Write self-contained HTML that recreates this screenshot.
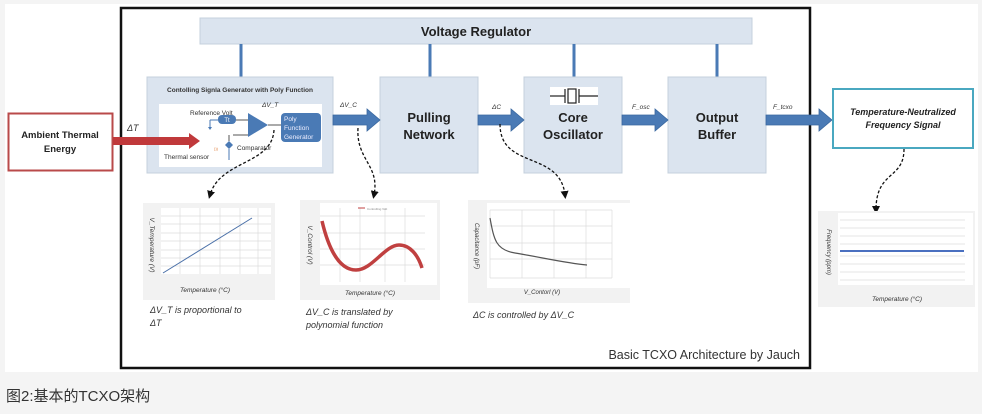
<!DOCTYPE html>
<html><head><meta charset="utf-8"><style>
html,body{margin:0;padding:0;background:#f4f4f4;}
body{width:982px;height:414px;overflow:hidden;position:relative;font-family:"Liberation Sans","Noto Sans CJK SC",sans-serif;}
svg{position:absolute;left:0;top:0}
.cap{position:absolute;left:6px;top:385px;font-size:15px;color:#333;}
</style></head><body>
<svg width="982" height="414" viewBox="0 0 982 414" font-family="Liberation Sans, sans-serif">
<defs>
<marker id="ah" markerWidth="8" markerHeight="8" refX="4" refY="4" orient="auto" markerUnits="userSpaceOnUse"><path d="M0,0 L8,4 L0,8 z" fill="#111"/></marker>
</defs>
<rect x="5" y="4" width="973" height="368" fill="#fff"/>
<rect x="121" y="8" width="689" height="360" fill="none" stroke="#111" stroke-width="2.5"/>
<!-- voltage regulator -->
<rect x="200" y="18" width="552" height="26" fill="#dbe4ef" stroke="#c5d0dc"/>
<text x="476" y="36" text-anchor="middle" font-size="13" font-weight="bold" fill="#222">Voltage Regulator</text>
<g stroke="#4a7ab5" stroke-width="3">
<line x1="241" y1="44" x2="241" y2="77"/><line x1="430" y1="44" x2="430" y2="77"/><line x1="574" y1="44" x2="574" y2="77"/><line x1="717" y1="44" x2="717" y2="77"/>
</g>
<!-- ambient -->
<rect x="8.5" y="113.5" width="104" height="57" fill="#fff" stroke="#b94a4a" stroke-width="2"/>
<text x="60" y="138" text-anchor="middle" font-size="9.5" font-weight="bold" fill="#222">Ambient Thermal</text>
<text x="60" y="152" text-anchor="middle" font-size="9.5" font-weight="bold" fill="#222">Energy</text>
<text x="127" y="131" font-size="9" font-style="italic" fill="#333">ΔT</text>
<!-- controller -->
<rect x="147" y="77" width="186" height="96" fill="#dbe4ef" stroke="#c5d0dc"/>
<text x="240" y="92" text-anchor="middle" font-size="6.5" font-weight="bold" fill="#333">Contolling Signla Generator with Poly Function</text>
<rect x="159" y="104" width="163" height="63" fill="#fff"/>
<text x="190" y="115" font-size="6.5" fill="#333">Reference Volt</text>
<rect x="218" y="115" width="18" height="9" rx="4" fill="#4a7ab5"/>
<text x="227" y="122" text-anchor="middle" font-size="6" fill="#fff">Tt</text>
<path d="M210,120 L210,128" stroke="#4a7ab5"/><path d="M208,127 l2,3 l2,-3z" fill="#4a7ab5"/>
<line x1="210" y1="120" x2="218" y2="120" stroke="#4a7ab5"/>
<line x1="236" y1="120" x2="248" y2="120" stroke="#555"/>
<path d="M248,113 L268,125 L248,137 z" fill="#4a7ab5"/>
<line x1="268" y1="125" x2="281" y2="125" stroke="#555"/>
<path d="M225,145 l4,-4 l4,4 l-4,4z" fill="#4a7ab5"/>
<line x1="229" y1="149" x2="229" y2="160" stroke="#4a7ab5"/>
<line x1="233" y1="135" x2="248" y2="135" stroke="#555"/>
<line x1="229" y1="135" x2="229" y2="141" stroke="#555"/>
<text x="214" y="150" font-size="4" fill="#e08040">)))</text>
<text x="164" y="159" font-size="6.5" fill="#333">Thermal sensor</text>
<text x="237" y="150" font-size="6.5" fill="#333">Comparator</text>
<text x="262" y="107" font-size="6.5" font-style="italic" fill="#333">ΔV_T</text>
<rect x="281" y="113" width="40" height="29" rx="4" fill="#4a7ab5"/>
<text x="284" y="121" font-size="6.5" fill="#eef">Poly</text>
<text x="284" y="130" font-size="6.5" fill="#eef">Function</text>
<text x="284" y="139" font-size="6.5" fill="#eef">Generator</text>
<!-- red arrow -->
<path d="M113,137 L189,137 L189,133 L200,141 L189,149 L189,145 L113,145 z" fill="#c0393b"/>
<!-- blocks -->
<g fill="#dbe4ef" stroke="#c5d0dc">
<rect x="380" y="77" width="98" height="96"/><rect x="524" y="77" width="98" height="96"/><rect x="668" y="77" width="98" height="96"/>
</g>
<g font-size="13" font-weight="bold" fill="#222" text-anchor="middle">
<text x="429" y="122">Pulling</text><text x="429" y="139">Network</text>
<text x="573" y="122">Core</text><text x="573" y="139">Oscillator</text>
<text x="717" y="122">Output</text><text x="717" y="139">Buffer</text>
</g>
<rect x="550" y="87" width="48" height="18" fill="#fff"/>
<g stroke="#222" stroke-width="1.2" fill="none"><line x1="550" y1="96" x2="565" y2="96"/><line x1="565" y1="89" x2="565" y2="103"/><rect x="568" y="89" width="8" height="14"/><line x1="579" y1="89" x2="579" y2="103"/><line x1="579" y1="96" x2="598" y2="96"/></g>
<!-- blue arrows -->
<g fill="#4a7ab5" stroke="#3a68a0" stroke-width="0.8">
<path d="M333,115 L367,115 L367,109 L380,120 L367,131 L367,125 L333,125z"/>
<path d="M478,115 L511,115 L511,109 L524,120 L511,131 L511,125 L478,125z"/>
<path d="M622,115 L655,115 L655,109 L668,120 L655,131 L655,125 L622,125z"/>
<path d="M766,115 L819,115 L819,109 L832,120 L819,131 L819,125 L766,125z"/>
</g>
<g font-size="6.5" font-style="italic" fill="#333">
<text x="340" y="107">ΔV_C</text><text x="492" y="109">ΔC</text><text x="632" y="109">F_osc</text><text x="773" y="109">F_tcxo</text>
</g>
<!-- final box -->
<rect x="833" y="89" width="140" height="59" fill="#fff" stroke="#4aa8c0" stroke-width="2"/>
<text x="903" y="115" text-anchor="middle" font-size="9" font-weight="bold" font-style="italic" fill="#222">Temperature-Neutralized</text>
<text x="903" y="128" text-anchor="middle" font-size="9" font-weight="bold" font-style="italic" fill="#222">Frequency Signal</text>
<!-- dashed connectors -->
<g fill="none" stroke="#111" stroke-width="1.3" stroke-dasharray="3,2" marker-end="url(#ah)">
<path d="M274,130 C272,165 220,160 210,195"/>
<path d="M358,128 C356,160 380,165 374,195"/>
<path d="M500,124 C500,170 560,150 565,195"/>
<path d="M904,149 C904,180 876,170 876,210"/>
</g>
<!-- chart1 -->
<rect x="143" y="203" width="132" height="97" fill="#f2f2f2"/>
<rect x="161" y="208" width="110" height="66" fill="#fff"/>
<g stroke="#ddd" stroke-width="0.7">
<line x1="161" y1="216" x2="271" y2="216"/><line x1="161" y1="224" x2="271" y2="224"/><line x1="161" y1="233" x2="271" y2="233"/><line x1="161" y1="241" x2="271" y2="241"/><line x1="161" y1="250" x2="271" y2="250"/><line x1="161" y1="258" x2="271" y2="258"/><line x1="161" y1="266" x2="271" y2="266"/>
<line x1="180" y1="208" x2="180" y2="274"/><line x1="200" y1="208" x2="200" y2="274"/><line x1="220" y1="208" x2="220" y2="274"/><line x1="240" y1="208" x2="240" y2="274"/><line x1="258" y1="208" x2="258" y2="274"/>
</g>
<line x1="163" y1="273" x2="252" y2="218" stroke="#4a70a8" stroke-width="1"/>
<text x="205" y="292" text-anchor="middle" font-size="6.5" font-style="italic" fill="#333">Temperature (°C)</text>
<text transform="translate(150,245) rotate(90)" text-anchor="middle" font-size="6.5" font-style="italic" fill="#333">V_Temperature  (V)</text>
<!-- chart2 -->
<rect x="300" y="200" width="140" height="100" fill="#f2f2f2"/>
<rect x="320" y="203" width="117" height="82" fill="#fff"/>
<g stroke="#ddd" stroke-width="0.7">
<line x1="320" y1="216" x2="425" y2="216"/><line x1="320" y1="233" x2="425" y2="233"/><line x1="320" y1="249" x2="425" y2="249"/><line x1="320" y1="265" x2="425" y2="265"/>
<line x1="340" y1="208" x2="340" y2="282"/><line x1="360" y1="208" x2="360" y2="282"/><line x1="385" y1="208" x2="385" y2="282"/><line x1="405" y1="208" x2="405" y2="282"/>
</g>
<path d="M322,221 C330,255 342,270 356,270 C372,270 385,245 399,245 C410,245 418,255 422,268" fill="none" stroke="#c04040" stroke-width="3.5"/>
<line x1="358" y1="208" x2="365" y2="208" stroke="#c04040"/>
<text x="367" y="210" font-size="3" fill="#888">Controlling Volt</text>
<text x="370" y="295" text-anchor="middle" font-size="6.5" font-style="italic" fill="#333">Temperature (°C)</text>
<text transform="translate(308,245) rotate(90)" text-anchor="middle" font-size="6.5" font-style="italic" fill="#333">V_Control (V)</text>
<!-- chart3 -->
<rect x="468" y="200" width="162" height="103" fill="#f2f2f2"/>
<rect x="487" y="203" width="143" height="85" fill="#fff"/>
<g stroke="#ddd" stroke-width="0.7">
<line x1="490" y1="210" x2="612" y2="210"/><line x1="490" y1="226" x2="612" y2="226"/><line x1="490" y1="243" x2="612" y2="243"/><line x1="490" y1="259" x2="612" y2="259"/><line x1="490" y1="278" x2="612" y2="278"/>
<line x1="522" y1="210" x2="522" y2="278"/><line x1="554" y1="210" x2="554" y2="278"/><line x1="586" y1="210" x2="586" y2="278"/><line x1="612" y1="210" x2="612" y2="278"/><line x1="490" y1="210" x2="490" y2="278"/>
</g>
<path d="M490,218 C494,240 496,250 515,253 C545,258 565,263 587,265" fill="none" stroke="#555" stroke-width="1.2"/>
<text x="542" y="294" text-anchor="middle" font-size="6" font-style="italic" fill="#333">V_Contorl (V)</text>
<text transform="translate(475,246) rotate(90)" text-anchor="middle" font-size="6" font-style="italic" fill="#333">Capacitance (pF)</text>
<!-- chart4 -->
<rect x="818" y="211" width="157" height="96" fill="#f2f2f2"/>
<rect x="838" y="213" width="135" height="72" fill="#fff"/>
<g stroke="#ddd" stroke-width="0.7">
<line x1="840" y1="220" x2="965" y2="220"/><line x1="840" y1="228" x2="965" y2="228"/><line x1="840" y1="236" x2="965" y2="236"/><line x1="840" y1="244" x2="965" y2="244"/><line x1="840" y1="256" x2="965" y2="256"/><line x1="840" y1="264" x2="965" y2="264"/><line x1="840" y1="272" x2="965" y2="272"/><line x1="840" y1="280" x2="965" y2="280"/>
</g>
<line x1="840" y1="251" x2="964" y2="251" stroke="#4a70c0" stroke-width="2"/>
<text x="897" y="301" text-anchor="middle" font-size="6.5" font-style="italic" fill="#333">Temperature (°C)</text>
<text transform="translate(827,252) rotate(90)" text-anchor="middle" font-size="6" font-style="italic" fill="#333">Frequency (ppm)</text>
<!-- notes -->
<g font-size="9" font-style="italic" fill="#333">
<text x="150" y="313">ΔV_T is proportional to</text><text x="150" y="326">ΔT</text>
<text x="306" y="315">ΔV_C is translated by</text><text x="306" y="328">polynomial function</text>
<text x="473" y="318">ΔC is controlled by ΔV_C</text>
</g>
<text x="800" y="359" text-anchor="end" font-size="12.5" fill="#333">Basic TCXO Architecture by Jauch</text>
</svg>
<div class="cap">图2:基本的TCXO架构</div>
</body></html>
